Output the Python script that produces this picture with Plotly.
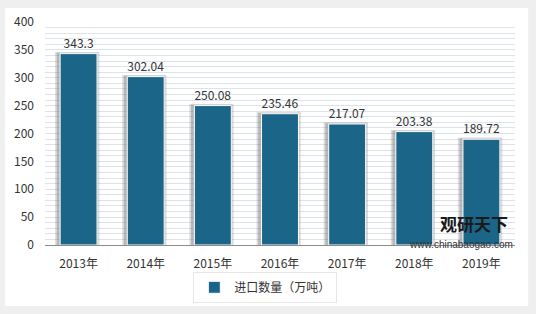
import plotly.graph_objects as go

years = ["2013年", "2014年", "2015年", "2016年", "2017年", "2018年", "2019年"]
values = [343.3, 302.04, 250.08, 235.46, 217.07, 203.38, 189.72]
labels = ["343.3", "302.04", "250.08", "235.46", "217.07", "203.38", "189.72"]
series_name = "进口数量（万吨）"

font_family = "Noto Sans CJK SC, Noto Sans, sans-serif"

fig = go.Figure()
# soft shadow behind bars
fig.add_trace(go.Bar(
    x=years, y=[v + 3 for v in values], width=0.66, offset=-0.35,
    marker=dict(color="rgba(120,120,120,0.25)", line=dict(width=0)),
    showlegend=False, hoverinfo="skip"))
fig.add_trace(go.Bar(
    x=years, y=[v + 1.5 for v in values], width=0.61, offset=-0.325,
    marker=dict(color="rgba(100,100,100,0.3)", line=dict(width=0)),
    showlegend=False, hoverinfo="skip"))
fig.add_trace(go.Bar(
    x=years, y=values, name=series_name, width=0.55,
    marker=dict(color="#1B6589", line=dict(color="#FFFFFF", width=1)),
    text=labels, textposition="outside", cliponaxis=False,
    textfont=dict(size=12, color="#333333", family=font_family)))

fig.update_layout(
    width=536, height=314,
    margin=dict(l=45, r=21, t=22, b=69, autoexpand=False),
    paper_bgcolor="#EFEFEF",
    plot_bgcolor="#EBF1F7",
    barmode="overlay",
    font=dict(family=font_family, size=12, color="#333333"),
    showlegend=True,
    legend=dict(orientation="h", x=0.495, xanchor="center", xref="container",
                y=0.085, yanchor="middle", yref="container",
                bgcolor="#FFFFFF", bordercolor="#E6E6E6", borderwidth=1,
                font=dict(size=12, color="#333333")),
    shapes=[dict(type="rect", xref="paper", yref="paper", layer="below",
                 x0=-0.085, x1=1.028, y0=-0.274, y1=1.063,
                 fillcolor="#FFFFFF", line=dict(width=0))],
    yaxis=dict(range=[0, 400], dtick=50, showgrid=True, gridcolor="#DAE2EA", gridwidth=1,
               minor=dict(dtick=10, showgrid=True, gridcolor="#DCE3EB", gridwidth=1),
               zeroline=False, ticks="", ticklabelstandoff=10,
               tickfont=dict(size=12, color="#333333")),
    xaxis=dict(showline=True, linecolor="#8C8C8C", linewidth=1, ticks="",
               ticklabelstandoff=8,
               tickfont=dict(size=12, color="#333333")),
    bargap=0.45,
)

fig.add_annotation(xref="paper", yref="paper", x=0.99, y=0.03, xanchor="right", yanchor="bottom",
                   text="<b>观研天下</b>", showarrow=False,
                   font=dict(size=17, color="#1A1A1A", family=font_family))
fig.add_annotation(xref="paper", yref="paper", x=1.0, y=0.035, xanchor="right", yanchor="top",
                   text="www.chinabaogao.com", showarrow=False,
                   font=dict(size=10, color="#333333", family="Liberation Sans, Arial"))

fig.write_html("out.html")
